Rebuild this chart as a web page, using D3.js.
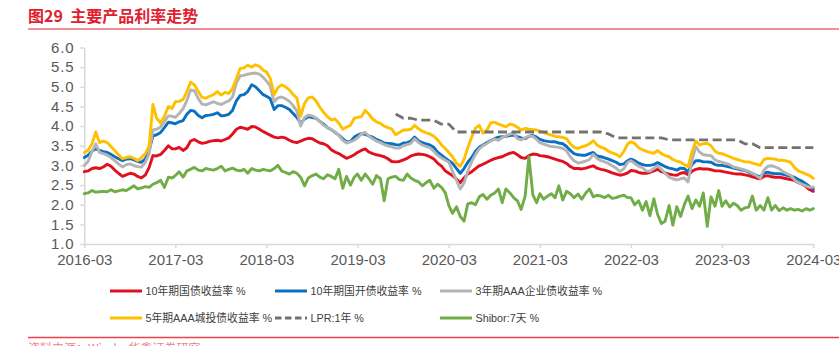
<!DOCTYPE html>
<html>
<head>
<meta charset="utf-8">
<script src="https://cdn.jsdelivr.net/npm/d3@7"></script>
<style>
  html, body { margin: 0; padding: 0; background: #fff; }
  svg { display: block; }
</style>
</head>
<body>
<svg id="chart" width="839" height="346"></svg>
<script>
// Semi-monthly observations, 2016-03-01 through 2024-03-01 (1st and 16th of each month)
const gov10y = [
  2.84, 2.86, 2.92, 2.94, 2.92, 2.96, 3.03, 2.98, 2.88, 2.80,
  2.72, 2.76, 2.80, 2.78, 2.72, 2.68, 2.76, 2.95, 3.25, 3.24,
  3.28, 3.38, 3.50, 3.42, 3.42, 3.46, 3.38, 3.45, 3.62, 3.66,
  3.60, 3.56, 3.58, 3.61, 3.63, 3.64, 3.62, 3.66, 3.70, 3.80,
  3.92, 3.97, 3.95, 3.92, 3.99, 3.98, 3.92, 3.86, 3.82, 3.77,
  3.72, 3.70, 3.72, 3.70, 3.64, 3.60, 3.58, 3.62, 3.66, 3.69,
  3.68, 3.62, 3.57, 3.55, 3.50, 3.40, 3.34, 3.30, 3.24, 3.18,
  3.22, 3.27, 3.33, 3.38, 3.42, 3.34, 3.30, 3.27, 3.25, 3.22,
  3.17, 3.10, 3.09, 3.10, 3.14, 3.18, 3.24, 3.27, 3.29, 3.28,
  3.26, 3.22, 3.16, 3.06, 2.98, 2.86, 2.80, 2.74, 2.65, 2.56,
  2.68, 2.78, 2.84, 2.92, 2.99, 3.03, 3.08, 3.13, 3.17, 3.20,
  3.22, 3.27, 3.31, 3.33, 3.27, 3.20, 3.18, 3.25, 3.29, 3.28,
  3.25, 3.24, 3.22, 3.19, 3.16, 3.13, 3.10, 3.05, 2.97, 2.92,
  2.92, 2.91, 2.93, 2.96, 2.99, 2.93, 2.90, 2.88, 2.85, 2.81,
  2.78, 2.75, 2.77, 2.81, 2.87, 2.86, 2.82, 2.80, 2.80, 2.82,
  2.86, 2.90, 2.84, 2.81, 2.78, 2.76, 2.75, 2.80, 2.82, 2.76,
  2.85, 2.90, 2.92, 2.91, 2.91, 2.89, 2.86, 2.86, 2.85, 2.83,
  2.81, 2.79, 2.78, 2.78, 2.76, 2.74, 2.71, 2.68, 2.66, 2.72,
  2.74, 2.71, 2.70, 2.70, 2.68, 2.66, 2.64, 2.62, 2.56, 2.52,
  2.46, 2.38, 2.34
];
const cdb10y = [
  3.20, 3.26, 3.36, 3.42, 3.38, 3.35, 3.33, 3.28, 3.22, 3.17,
  3.12, 3.16, 3.17, 3.14, 3.10, 3.08, 3.17, 3.38, 3.75, 3.78,
  3.84, 3.96, 4.10, 4.08, 4.06, 4.11, 4.14, 4.30, 4.40, 4.38,
  4.27, 4.21, 4.27, 4.28, 4.30, 4.34, 4.26, 4.27, 4.30, 4.40,
  4.65, 4.78, 4.80, 4.88, 5.05, 5.00, 4.90, 4.80, 4.76, 4.70,
  4.42, 4.52, 4.52, 4.48, 4.42, 4.32, 4.22, 4.08, 4.18, 4.24,
  4.22, 4.20, 4.12, 4.05, 3.96, 3.91, 3.84, 3.77, 3.68, 3.60,
  3.61, 3.72, 3.77, 3.81, 3.79, 3.75, 3.72, 3.66, 3.62, 3.57,
  3.56, 3.55, 3.53, 3.52, 3.57, 3.58, 3.62, 3.72, 3.62, 3.58,
  3.55, 3.52, 3.46, 3.34, 3.26, 3.18, 3.12, 3.05, 2.92, 2.80,
  2.92, 3.08, 3.20, 3.36, 3.46, 3.52, 3.58, 3.63, 3.68, 3.72,
  3.73, 3.74, 3.76, 3.77, 3.73, 3.70, 3.68, 3.74, 3.76, 3.72,
  3.66, 3.63, 3.61, 3.60, 3.60, 3.57, 3.55, 3.48, 3.38, 3.30,
  3.27, 3.26, 3.26, 3.30, 3.33, 3.24, 3.22, 3.19, 3.16, 3.12,
  3.08, 3.02, 3.04, 3.12, 3.16, 3.12, 3.06, 3.02, 3.00, 3.00,
  3.02, 3.07, 3.02, 2.97, 2.93, 2.91, 2.88, 2.93, 2.92, 2.84,
  3.02, 3.12, 3.12, 3.09, 3.09, 3.08, 3.02, 3.00, 3.00, 2.98,
  2.96, 2.93, 2.91, 2.89, 2.87, 2.83, 2.79, 2.75, 2.71, 2.80,
  2.83, 2.80, 2.79, 2.79, 2.77, 2.75, 2.72, 2.70, 2.64, 2.60,
  2.53, 2.46, 2.40
];
const corpAAA3y = [
  3.00, 3.10, 3.35, 3.55, 3.33, 3.30, 3.26, 3.20, 3.12, 3.04,
  2.96, 3.02, 3.04, 2.99, 2.97, 2.96, 3.08, 3.30, 3.90, 3.92,
  3.98, 4.12, 4.26, 4.25, 4.22, 4.32, 4.44, 4.65, 4.92, 4.90,
  4.70, 4.56, 4.54, 4.58, 4.62, 4.58, 4.55, 4.60, 4.64, 4.74,
  5.10, 5.28, 5.29, 5.32, 5.34, 5.35, 5.32, 5.24, 5.15, 5.02,
  4.62, 4.72, 4.74, 4.70, 4.63, 4.52, 4.38, 4.00, 4.22, 4.28,
  4.26, 4.20, 4.12, 4.02, 3.96, 3.91, 3.85, 3.76, 3.64, 3.57,
  3.60, 3.64, 3.70, 3.80, 3.84, 3.74, 3.68, 3.62, 3.58, 3.53,
  3.50, 3.47, 3.44, 3.44, 3.50, 3.53, 3.56, 3.68, 3.58, 3.52,
  3.48, 3.45, 3.36, 3.26, 3.19, 3.13, 3.08, 2.85, 2.62, 2.40,
  2.55, 2.85, 3.10, 3.28, 3.42, 3.50, 3.56, 3.62, 3.67, 3.64,
  3.71, 3.75, 3.80, 3.82, 3.68, 3.65, 3.70, 3.75, 3.74, 3.66,
  3.58, 3.54, 3.51, 3.48, 3.47, 3.46, 3.43, 3.37, 3.22, 3.12,
  3.06, 3.08, 3.11, 3.15, 3.28, 3.18, 3.12, 3.09, 3.05, 2.99,
  2.93, 2.84, 2.92, 3.08, 3.12, 3.05, 2.98, 2.94, 2.86, 2.85,
  2.92, 2.99, 2.90, 2.80, 2.70, 2.66, 2.63, 2.66, 2.68, 2.58,
  3.13, 3.48, 3.34, 3.27, 3.26, 3.25, 3.14, 3.10, 3.08, 3.05,
  3.02, 2.96, 2.94, 2.91, 2.88, 2.85, 2.80, 2.74, 2.67, 2.88,
  2.98, 2.99, 2.96, 2.92, 2.84, 2.79, 2.75, 2.64, 2.56, 2.52,
  2.48, 2.44, 2.45
];
const cityInvAAA5y = [
  3.33, 3.38, 3.55, 3.85, 3.58, 3.62, 3.58, 3.48, 3.38, 3.27,
  3.17, 3.20, 3.22, 3.18, 3.12, 3.20, 3.30, 3.50, 4.55, 4.20,
  4.08, 4.25, 4.50, 4.45, 4.62, 4.63, 4.68, 4.88, 5.12, 5.05,
  4.88, 4.73, 4.71, 4.76, 4.80, 4.88, 4.79, 4.86, 4.83, 4.95,
  5.22, 5.47, 5.48, 5.55, 5.50, 5.56, 5.52, 5.42, 5.38, 5.22,
  4.80, 4.98, 5.05, 5.00, 4.92, 4.80, 4.72, 4.25, 4.58, 4.72,
  4.74, 4.64, 4.48, 4.35, 4.24, 4.16, 4.18, 4.08, 3.92, 3.97,
  4.02, 4.20, 4.22, 4.24, 4.40, 4.30, 4.18, 4.11, 4.07, 4.00,
  3.96, 3.93, 3.78, 3.84, 3.90, 3.90, 3.92, 4.02, 3.93, 3.87,
  3.83, 3.80, 3.74, 3.65, 3.52, 3.43, 3.33, 3.22, 3.05, 2.98,
  3.15, 3.45, 3.72, 3.95, 4.02, 3.82, 3.90, 4.08, 4.10, 4.05,
  4.02, 3.98, 4.05, 4.03, 3.97, 3.90, 3.94, 3.92, 3.91, 3.90,
  3.87, 3.84, 3.80, 3.77, 3.74, 3.73, 3.71, 3.68, 3.55, 3.46,
  3.43, 3.47, 3.50, 3.55, 3.63, 3.52, 3.46, 3.43, 3.36, 3.32,
  3.28, 3.22, 3.36, 3.55, 3.60, 3.56, 3.45, 3.40, 3.36, 3.33,
  3.31, 3.38, 3.30, 3.25, 3.22, 3.15, 3.11, 3.08, 3.02, 2.97,
  3.35, 3.62, 3.52, 3.55, 3.56, 3.50, 3.36, 3.31, 3.30, 3.26,
  3.22, 3.18, 3.15, 3.12, 3.09, 3.09, 3.06, 3.03, 3.00, 3.15,
  3.18, 3.17, 3.16, 3.13, 3.13, 3.11, 3.08, 2.95, 2.86, 2.82,
  2.78, 2.74, 2.67
];
const shibor7d = [
  2.28, 2.30, 2.36, 2.32, 2.33, 2.34, 2.33, 2.38, 2.33, 2.35,
  2.38, 2.36, 2.42, 2.48, 2.40, 2.43, 2.46, 2.44, 2.52, 2.56,
  2.62, 2.44, 2.70, 2.68, 2.74, 2.84, 2.70, 2.86, 2.90, 2.95,
  2.88, 2.86, 2.92, 2.90, 2.88, 2.92, 2.98, 2.86, 2.90, 2.93,
  2.88, 2.86, 2.90, 2.80, 2.92, 2.88, 2.86, 2.90, 2.88, 2.86,
  2.92, 3.00, 2.86, 2.82, 2.78, 2.84, 2.80, 2.70, 2.48, 2.68,
  2.74, 2.78, 2.70, 2.66, 2.76, 2.72, 2.66, 2.90, 2.42, 2.72,
  2.50, 2.70, 2.78, 2.62, 2.78, 2.66, 2.52, 2.74, 2.66, 2.10,
  2.66, 2.70, 2.72, 2.64, 2.62, 2.78, 2.68, 2.62, 2.58, 2.48,
  2.56, 2.62, 2.42, 2.52, 2.44, 2.30, 1.98, 1.78, 1.95, 1.70,
  1.58, 2.02, 2.05, 2.00, 2.20, 2.26, 2.14, 2.24, 2.30, 2.40,
  2.05, 2.40, 2.30, 2.18, 2.10, 1.88, 2.22, 3.22, 2.25, 2.05,
  2.28, 2.14, 2.22, 2.28, 2.18, 2.48, 2.12, 2.34, 2.28, 2.18,
  2.27, 2.14, 2.30, 2.40, 2.20, 2.24, 2.22, 2.18, 2.24, 2.16,
  2.18, 2.22, 2.24, 2.18, 2.18, 2.00, 2.10, 1.86, 2.08, 1.72,
  2.15, 1.75, 1.52, 1.58, 1.98, 1.48, 1.95, 1.70, 2.00, 2.22,
  1.90, 2.12, 1.96, 2.30, 1.45, 2.20, 1.96, 2.36, 1.96, 2.10,
  1.94, 2.04, 1.98, 1.86, 1.92, 1.94, 2.22, 1.86, 1.98, 1.86,
  2.18, 1.86, 1.98, 1.85, 1.92, 1.86, 1.90, 1.86, 1.88, 1.84,
  1.90, 1.86, 1.90
];
// 1-year LPR, monthly from 2019-08 through 2024-03
const lpr1y = [
  4.31, 4.20, 4.20, 4.15, 4.15,
  4.15, 4.05, 4.05, 3.85, 3.85, 3.85, 3.85, 3.85, 3.85, 3.85, 3.85, 3.85,
  3.85, 3.85, 3.85, 3.85, 3.85, 3.85, 3.85, 3.85, 3.85, 3.85, 3.85, 3.80,
  3.70, 3.70, 3.70, 3.70, 3.70, 3.70, 3.70, 3.65, 3.65, 3.65, 3.65, 3.65,
  3.65, 3.65, 3.65, 3.65, 3.65, 3.55, 3.55, 3.45, 3.45, 3.45, 3.45, 3.45,
  3.45, 3.45, 3.45
];
const yTicks = [1.0, 1.5, 2.0, 2.5, 3.0, 3.5, 4.0, 4.5, 5.0, 5.5, 6.0];
const xTickLabels = ["2016-03", "2017-03", "2018-03", "2019-03", "2020-03",
                     "2021-03", "2022-03", "2023-03", "2024-03"];
const seriesNames = ["10年期国债收益率 %", "10年期国开债收益率 %", "3年期AAA企业债收益率 %",
                     "5年期AAA城投债收益率 %", "LPR:1年 %", "Shibor:7天 %"];

const parseMonth = d3.timeParse("%Y-%m");
const dates = gov10y.map((_, i) => new Date(2016, 2 + Math.floor(i / 2), i % 2 ? 16 : 1));
const lprDates = lpr1y.map((_, k) => new Date(2019, 7 + k, 1));
const xTicks = xTickLabels.map(parseMonth);

const FONT = "'Liberation Sans', Arial, 'Noto Sans CJK SC', sans-serif";
const TITLE_RED = "#e0202e";

const svg = d3.select("#chart");

// Header
svg.append("text")
  .attr("x", 28).attr("y", 21.5)
  .attr("font-family", "'Noto Sans CJK SC', sans-serif")
  .attr("font-size", 16).attr("font-weight", 700)
  .attr("fill", TITLE_RED)
  .attr("xml:space", "preserve")
  .text("图29  主要产品利率走势");
svg.append("line")
  .attr("x1", 28).attr("x2", 839).attr("y1", 29).attr("y2", 29)
  .attr("stroke", TITLE_RED).attr("stroke-width", 1.2);

// Scales
const x = d3.scaleTime()
  .domain([xTicks[0], xTicks[xTicks.length - 1]])
  .range([84.3, 813.3]);
const y = d3.scaleLinear().domain([1, 6]).range([244, 47.5]);

// Axes
const axisColor = "#d9d9d9";
const labelColor = "#595959";

const yAxis = svg.append("g")
  .attr("transform", `translate(${x.range()[0]},0)`)
  .call(d3.axisLeft(y).tickValues(yTicks).tickFormat(d3.format(".1f"))
        .tickSize(4).tickSizeOuter(0).tickPadding(6));
const xAxis = svg.append("g")
  .attr("transform", `translate(0,${y(1)})`)
  .call(d3.axisBottom(x).tickValues(xTicks).tickFormat(d3.timeFormat("%Y-%m"))
        .tickSize(4).tickSizeOuter(0).tickPadding(6));

[yAxis, xAxis].forEach(g => {
  g.select(".domain").attr("stroke", axisColor).attr("stroke-width", 1.5);
  g.selectAll(".tick line").attr("stroke", axisColor).attr("stroke-width", 1.5);
  g.selectAll(".tick text")
    .attr("fill", labelColor)
    .attr("font-family", FONT)
    .attr("font-size", 15);
});
yAxis.selectAll(".tick text").attr("letter-spacing", 0.8);

// Series
const series = [
  { name: seriesNames[0], values: gov10y,       color: "#e0101e" },
  { name: seriesNames[1], values: cdb10y,       color: "#0a70c0" },
  { name: seriesNames[2], values: corpAAA3y,    color: "#b4b4b4" },
  { name: seriesNames[3], values: cityInvAAA5y, color: "#ffc000" },
];
const lprColor = "#767171";
const shiborColor = "#70ad47";

const line = d3.line()
  .x(d => x(d[0]))
  .y(d => y(d[1]))
  .curve(d3.curveLinear);

const plot = svg.append("g").attr("fill", "none")
  .attr("stroke-linejoin", "round").attr("stroke-linecap", "round");

series.forEach(s => {
  plot.append("path")
    .datum(s.values.map((v, i) => [dates[i], v]))
    .attr("d", line)
    .attr("stroke", s.color)
    .attr("stroke-width", 2.9);
});

plot.append("path")
  .datum(lpr1y.map((v, i) => [lprDates[i], v]))
  .attr("d", line)
  .attr("stroke", lprColor)
  .attr("stroke-width", 2.8)
  .attr("stroke-linecap", "butt")
  .attr("stroke-dasharray", "9,4.5");

plot.append("path")
  .datum(shibor7d.map((v, i) => [dates[i], v]))
  .attr("d", line)
  .attr("stroke", shiborColor)
  .attr("stroke-width", 2.9);

// Legend
const legendItems = [
  { name: seriesNames[0], color: "#e0101e", dash: null, col: 0, row: 0 },
  { name: seriesNames[1], color: "#0a70c0", dash: null, col: 1, row: 0 },
  { name: seriesNames[2], color: "#b4b4b4", dash: null, col: 2, row: 0 },
  { name: seriesNames[3], color: "#ffc000", dash: null, col: 0, row: 1 },
  { name: seriesNames[4], color: lprColor,  dash: "6.5,3.5", col: 1, row: 1 },
  { name: seriesNames[5], color: shiborColor, dash: null, col: 2, row: 1 },
];
const colX = [110, 275, 440];
const rowY = [291, 318];

const legend = svg.append("g");
legendItems.forEach(it => {
  const g = legend.append("g")
    .attr("transform", `translate(${colX[it.col]},${rowY[it.row]})`);
  g.append("line")
    .attr("x1", 0).attr("x2", 32).attr("y1", 0).attr("y2", 0)
    .attr("stroke", it.color).attr("stroke-width", 3)
    .attr("stroke-dasharray", it.dash);
  g.append("text")
    .attr("x", 35.5).attr("y", 4)
    .attr("font-family", FONT).attr("font-size", 10.8)
    .attr("fill", "#404040")
    .text(it.name);
});

// Footer rule and source note
svg.append("line")
  .attr("x1", 28).attr("x2", 839).attr("y1", 337.5).attr("y2", 337.5)
  .attr("stroke", "#e8424e").attr("stroke-width", 1.5);
svg.append("text")
  .attr("x", 28).attr("y", 353)
  .attr("font-family", "'Noto Sans CJK SC', sans-serif")
  .attr("font-size", 12).attr("fill", "#f08088")
  .text("资料来源：Wind，华鑫证券研究");
</script>
</body>
</html>
